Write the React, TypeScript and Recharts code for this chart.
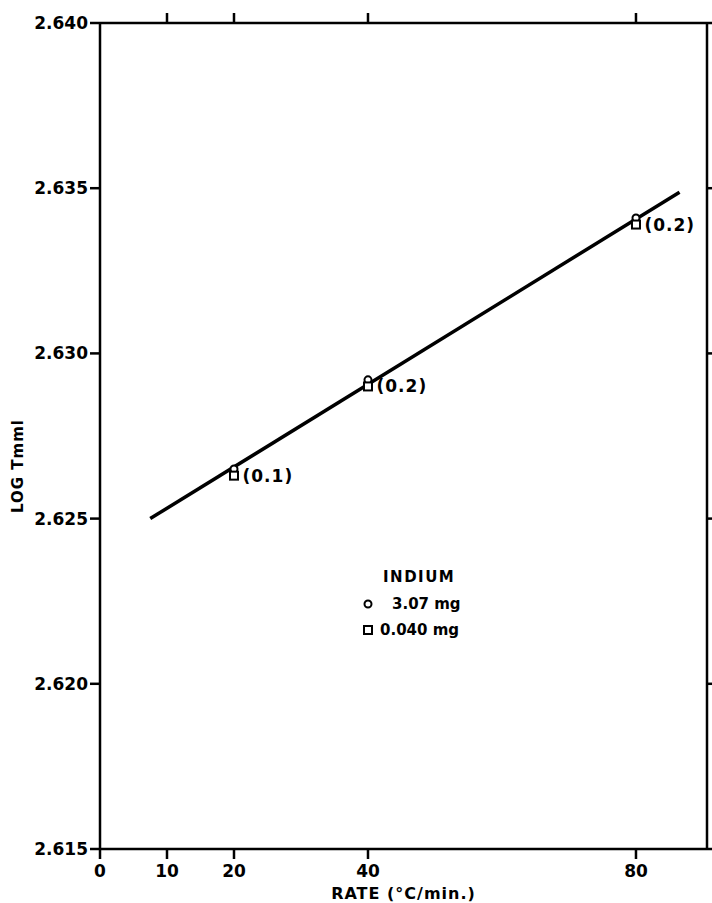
import {
  ComposedChart,
  XAxis,
  YAxis,
  Scatter,
  LabelList,
} from "recharts";

const xTicks = [0, 10, 20, 40, 80];
const topTicks = [10, 20, 40, 80];
const yTicks = [2.615, 2.62, 2.625, 2.63, 2.635, 2.64];

// fitted line end points
const fitLine = [
  { rate: 7.5, logT: 2.625 },
  { rate: 86.5, logT: 2.63488 },
];

// indium 3.07 mg (circles)
const indiumLarge = [
  { rate: 20, logT: 2.6265 },
  { rate: 40, logT: 2.6292 },
  { rate: 80, logT: 2.6341 },
];

// indium 0.040 mg (squares), with the bracketed note
const indiumSmall = [
  { rate: 20, logT: 2.6263, note: "(0.1)" },
  { rate: 40, logT: 2.629, note: "(0.2)" },
  { rate: 80, logT: 2.6339, note: "(0.2)" },
];

const FONT = "'DejaVu Sans', sans-serif";

const Circle = (p: any) => (
  <circle cx={p.cx} cy={p.cy} r={3.5} fill="#fff" stroke="#000" strokeWidth={2} />
);

const Square = (p: any) => (
  <rect x={p.cx - 4} y={p.cy - 4} width={8} height={8} fill="#fff" stroke="#000" strokeWidth={2} />
);

const Nothing = () => <g />;

const YTitle = ({ viewBox }: any) => {
  const cx = 18;
  const cy = viewBox.y + viewBox.height / 2 + 30;
  return (
    <text
      x={cx}
      y={cy}
      transform={`rotate(-90 ${cx} ${cy})`}
      textAnchor="middle"
      dominantBaseline="central"
      style={{ fill: "#000", fontFamily: FONT, fontWeight: 700, fontSize: 15, letterSpacing: 1 }}
    >
      LOG Tmml
    </text>
  );
};

function IndiumLegend() {
  return (
    <div
      style={{
        position: "absolute",
        left: 362,
        top: 568,
        fontFamily: FONT,
        fontWeight: 700,
        color: "#000",
        fontSize: 15,
        lineHeight: "18px",
      }}
    >
      <div style={{ marginLeft: 21, letterSpacing: 1.5 }}>INDIUM</div>
      <div style={{ marginTop: 9, display: "flex", alignItems: "center" }}>
        <svg width={12} height={12}>
          <circle cx={6} cy={6} r={3.5} fill="#fff" stroke="#000" strokeWidth={2} />
        </svg>
        <span style={{ marginLeft: 18 }}>3.07 mg</span>
      </div>
      <div style={{ marginTop: 8, display: "flex", alignItems: "center" }}>
        <svg width={12} height={12}>
          <rect x={2} y={2} width={8} height={8} fill="#fff" stroke="#000" strokeWidth={2} />
        </svg>
        <span style={{ marginLeft: 6 }}>0.040 mg</span>
      </div>
    </div>
  );
}

export default function App() {
  const tickStyle = { fill: "#000", fontFamily: FONT, fontWeight: 700, fontSize: 17 };
  return (
    <div style={{ position: "absolute", left: 0, top: 0, width: 712, height: 903, background: "#fff" }}>
      <ComposedChart
        width={712}
        height={903}
        margin={{ top: 22, right: 4, bottom: 0, left: 0 }}
      >
        <XAxis
          dataKey="rate"
          type="number"
          domain={[0, 90.6]}
          ticks={xTicks}
          interval={0}
          allowDataOverflow
          tick={tickStyle}
          tickSize={10}
          tickMargin={6}
          height={54}
          axisLine={{ stroke: "#000", strokeWidth: 2.5 }}
          tickLine={{ stroke: "#000", strokeWidth: 2.5 }}
          label={{
            value: "RATE (°C/min.)",
            position: "insideBottom",
            offset: 4,
            style: { fill: "#000", fontFamily: FONT, fontWeight: 700, fontSize: 16, letterSpacing: 1 },
          }}
        />
        <XAxis
          xAxisId="top"
          orientation="top"
          dataKey="rate"
          type="number"
          domain={[0, 90.6]}
          ticks={topTicks}
          interval={0}
          allowDataOverflow
          tick={Nothing}
          tickSize={10}
          height={1}
          axisLine={{ stroke: "#000", strokeWidth: 2.5 }}
          tickLine={{ stroke: "#000", strokeWidth: 2.5 }}
        />
        <YAxis
          type="number"
          domain={[2.615, 2.64]}
          ticks={yTicks}
          interval={0}
          allowDataOverflow
          width={100}
          tick={tickStyle}
          tickFormatter={(v) => Number(v).toFixed(3)}
          tickSize={10}
          tickMargin={2}
          axisLine={{ stroke: "#000", strokeWidth: 2.5 }}
          tickLine={{ stroke: "#000", strokeWidth: 2.5 }}
          label={{ content: YTitle }}
        />
        <YAxis
          yAxisId="right"
          orientation="right"
          type="number"
          domain={[2.615, 2.64]}
          ticks={yTicks}
          interval={0}
          allowDataOverflow
          width={1}
          tick={Nothing}
          tickSize={6}
          axisLine={{ stroke: "#000", strokeWidth: 2.5 }}
          tickLine={{ stroke: "#000", strokeWidth: 2.5 }}
        />
        {/* fit line lives on the top/right axes (same scales) so those axes get their ticks */}
        <Scatter
          data={fitLine}
          dataKey="logT"
          xAxisId="top"
          yAxisId="right"
          line={{ stroke: "#000", strokeWidth: 3.5 }}
          shape={Nothing}
          legendType="none"
          isAnimationActive={false}
        />
        <Scatter
          data={indiumLarge}
          dataKey="logT"
          shape={Circle}
          isAnimationActive={false}
        />
        <Scatter
          data={indiumSmall}
          dataKey="logT"
          shape={Square}
          isAnimationActive={false}
        >
          <LabelList
            dataKey="note"
            position="right"
            offset={4}
            style={{ fill: "#000", fontFamily: FONT, fontWeight: 700, fontSize: 17, letterSpacing: 1 }}
          />
        </Scatter>
      </ComposedChart>
      <IndiumLegend />
    </div>
  );
}
